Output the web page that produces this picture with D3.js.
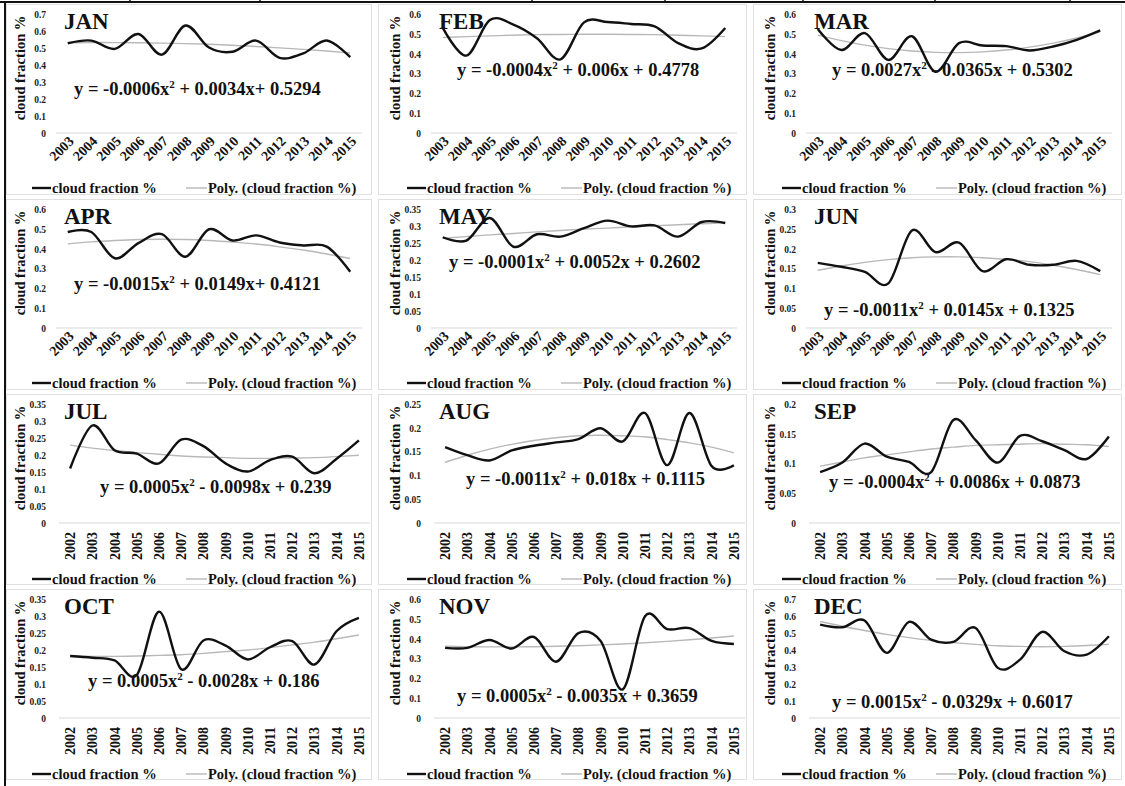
<!DOCTYPE html>
<html>
<head>
<meta charset="utf-8">
<script src="https://cdn.jsdelivr.net/npm/d3@7"></script>
<style>
  body { margin: 0; background: #fff; }
  svg { display: block; font-family: "Liberation Serif", "Times New Roman", serif; font-weight: bold; }
</style>
</head>
<body>
<svg id="chart" width="1125" height="786"></svg>
<script>
// Categories
const years0315 = ["2003","2004","2005","2006","2007","2008","2009","2010","2011","2012","2013","2014","2015"];
const years0215 = ["2002","2003","2004","2005","2006","2007","2008","2009","2010","2011","2012","2013","2014","2015"];
const months = ["JAN","FEB","MAR","APR","MAY","JUN","JUL","AUG","SEP","OCT","NOV","DEC"];

// Monthly cloud fraction and the polynomial trend
const janCloud = [0.530,0.546,0.497,0.585,0.463,0.635,0.505,0.480,0.546,0.444,0.470,0.546,0.448];
const janPoly  = [0.532,0.534,0.534,0.533,0.531,0.528,0.524,0.518,0.511,0.503,0.494,0.484,0.472];
const febCloud = [0.532,0.392,0.572,0.549,0.480,0.373,0.560,0.562,0.552,0.540,0.455,0.428,0.532];
const febPoly  = [0.483,0.488,0.492,0.495,0.498,0.499,0.500,0.500,0.499,0.498,0.495,0.492,0.488];
const marCloud = [0.527,0.420,0.506,0.370,0.490,0.310,0.455,0.443,0.440,0.418,0.438,0.472,0.520];
const marPoly  = [0.496,0.468,0.445,0.427,0.415,0.408,0.407,0.411,0.420,0.435,0.455,0.481,0.512];
const aprCloud = [0.486,0.486,0.353,0.430,0.475,0.361,0.500,0.443,0.469,0.433,0.418,0.412,0.285];
const aprPoly  = [0.426,0.436,0.443,0.448,0.449,0.448,0.443,0.435,0.425,0.411,0.395,0.375,0.352];
const mayCloud = [0.268,0.258,0.325,0.240,0.277,0.270,0.295,0.317,0.300,0.303,0.270,0.313,0.310];
const mayPoly  = [0.265,0.270,0.275,0.279,0.284,0.288,0.292,0.295,0.299,0.302,0.305,0.308,0.311];
const junCloud = [0.165,0.155,0.142,0.113,0.247,0.192,0.216,0.144,0.174,0.160,0.160,0.170,0.144];
const junPoly  = [0.146,0.157,0.166,0.173,0.178,0.180,0.180,0.178,0.174,0.168,0.159,0.148,0.135];
const julCloud = [0.161,0.288,0.215,0.205,0.176,0.246,0.227,0.176,0.152,0.186,0.196,0.147,0.190,0.244];
const julPoly  = [0.230,0.221,0.214,0.208,0.203,0.198,0.195,0.193,0.191,0.191,0.192,0.193,0.196,0.200];
const augCloud = [0.160,0.143,0.132,0.153,0.163,0.170,0.177,0.200,0.172,0.232,0.122,0.232,0.120,0.122];
const augPoly  = [0.128,0.143,0.156,0.166,0.174,0.180,0.184,0.185,0.184,0.182,0.176,0.169,0.160,0.148];
const sepCloud = [0.086,0.102,0.134,0.112,0.103,0.086,0.174,0.140,0.102,0.147,0.138,0.123,0.108,0.146];
const sepPoly  = [0.096,0.103,0.110,0.115,0.120,0.125,0.128,0.131,0.132,0.133,0.134,0.133,0.132,0.129];
const octCloud = [0.183,0.178,0.170,0.127,0.314,0.144,0.229,0.214,0.173,0.209,0.227,0.158,0.257,0.296];
const octPoly  = [0.184,0.182,0.182,0.183,0.185,0.187,0.191,0.196,0.201,0.208,0.216,0.224,0.234,0.245];
const novCloud = [0.355,0.355,0.395,0.352,0.410,0.285,0.430,0.390,0.145,0.515,0.450,0.455,0.390,0.375];
const novPoly  = [0.363,0.361,0.360,0.360,0.361,0.363,0.366,0.370,0.375,0.381,0.388,0.396,0.405,0.415];
const decCloud = [0.552,0.536,0.576,0.385,0.568,0.463,0.450,0.532,0.296,0.345,0.509,0.394,0.375,0.483];
const decPoly  = [0.570,0.542,0.517,0.494,0.475,0.458,0.445,0.435,0.427,0.423,0.421,0.423,0.428,0.435];

// Axis maxima, tick steps and trendline equations
const yMax  = [0.7,0.6,0.6,0.6,0.35,0.3,0.35,0.25,0.2,0.35,0.6,0.7];
const yStep = [0.1,0.1,0.1,0.1,0.05,0.05,0.05,0.05,0.05,0.05,0.1,0.1];
const eqTerms = [
  ["-0.0006", "0.0034x+ 0.5294"],
  ["-0.0004", "0.006x + 0.4778"],
  ["0.0027", "0.0365x + 0.5302"],
  ["-0.0015", "0.0149x+ 0.4121"],
  ["-0.0001", "0.0052x + 0.2602"],
  ["-0.0011", "0.0145x + 0.1325"],
  ["0.0005", "0.0098x + 0.239"],
  ["-0.0011", "0.018x + 0.1115"],
  ["-0.0004", "0.0086x + 0.0873"],
  ["0.0005", "0.0028x + 0.186"],
  ["0.0005", "0.0035x + 0.3659"],
  ["0.0015", "0.0329x + 0.6017"]
];
const eqSign = ["+","+","-","+","+","+","-","+","+","-","-","-"];

const cloudSeries = [janCloud,febCloud,marCloud,aprCloud,mayCloud,junCloud,julCloud,augCloud,sepCloud,octCloud,novCloud,decCloud];
const polySeries  = [janPoly,febPoly,marPoly,aprPoly,mayPoly,junPoly,julPoly,augPoly,sepPoly,octPoly,novPoly,decPoly];

// equation placement inside each panel (left x, baseline y)
const eqAt = [[74,95],[82,76],[82,76],[74,95],[74,73],[74,121],[100,103],[91,95],[79,98],[88,102],[82,117],[82,123]];

const svg = d3.select("#chart");

// table frame
svg.append("line").attr("x1", 0).attr("x2", 1125).attr("y1", 2).attr("y2", 2).attr("stroke", "#111").attr("stroke-width", 2);
svg.append("line").attr("x1", 5).attr("x2", 5).attr("y1", 1).attr("y2", 786).attr("stroke", "#111").attr("stroke-width", 2);
[130, 260, 532, 665, 803, 935, 1070].forEach(xx =>
  svg.append("line").attr("x1", xx).attr("x2", xx).attr("y1", 0).attr("y2", 3).attr("stroke", "#111").attr("stroke-width", 1.5));

months.forEach((m, i) => {
  const col = i % 3, row = Math.floor(i / 3);
  const years = row < 2 ? years0315 : years0215;
  const g = svg.append("g").attr("transform", `translate(${col * 375},${row * 195})`);
  const vertical = row >= 2;

  // chart area border
  g.append("rect")
    .attr("x", col === 0 ? 6.5 : 3.5).attr("y", 4.5)
    .attr("width", col === 0 ? 365 : 368).attr("height", 190)
    .attr("fill", "#fff").attr("stroke", "#e0e0e0");

  const x = d3.scaleBand().domain(years).range(vertical ? [59, 370] : [56, 362]);
  const y = d3.scaleLinear().domain([0, yMax[i]]).range([133, 14.5]);
  const cx = d => x(d) + x.bandwidth() / 2;

  // horizontal axis line
  g.append("line")
    .attr("x1", x.range()[0]).attr("x2", x.range()[1])
    .attr("y1", y(0)).attr("y2", y(0))
    .attr("stroke", "#d9d9d9").attr("stroke-width", 1);

  // y axis
  const ticks = d3.range(0, yMax[i] + yStep[i] / 2, yStep[i]);
  const ya = g.append("g").attr("transform", "translate(46,0)")
    .call(d3.axisLeft(y).tickValues(ticks).tickSize(0).tickPadding(0)
      .tickFormat(v => String(+v.toFixed(2))));
  ya.select(".domain").remove();
  ya.selectAll("text").attr("font-family", "Liberation Serif").attr("font-weight", "bold")
    .attr("font-size", "9.5px").attr("fill", "#222");

  // y axis title
  g.append("text")
    .attr("transform", "translate(25,68) rotate(-90)")
    .attr("text-anchor", "middle")
    .attr("font-size", "14.5px")
    .attr("fill", "#111")
    .text("cloud fraction %");

  // x axis labels
  const xa = g.append("g").attr("transform", `translate(0,${y(0)})`)
    .call(d3.axisBottom(x).tickSize(0));
  xa.select(".domain").remove();
  xa.selectAll("text")
    .attr("font-family", "Liberation Serif").attr("font-weight", "bold")
    .attr("font-size", "14px").attr("fill", "#111")
    .attr("text-anchor", "end")
    .attr("y", 0).attr("dy", 0)
    .attr("transform", vertical ? "translate(5,9) rotate(-90)" : "translate(7,9) rotate(-45)");

  // trend line
  const line = d3.line().x((d, k) => cx(years[k])).y(d => y(d));
  g.append("path")
    .datum(polySeries[i])
    .attr("fill", "none").attr("stroke", "#b8b8b8").attr("stroke-width", 1.4)
    .attr("d", line.curve(d3.curveNatural));

  // cloud fraction
  g.append("path")
    .datum(cloudSeries[i])
    .attr("fill", "none").attr("stroke", "#111").attr("stroke-width", 2.4)
    .attr("stroke-linejoin", "round")
    .attr("d", line.curve(d3.curveCardinal.tension(0)));

  // month title
  g.append("text").attr("x", 64).attr("y", 29)
    .attr("font-size", "23px").attr("fill", "#111").text(m);

  // equation
  const eq = g.append("text").attr("x", eqAt[i][0]).attr("y", eqAt[i][1])
    .attr("font-size", "18.5px").attr("fill", "#111");
  eq.append("tspan").text(`y = ${eqTerms[i][0]}x`);
  eq.append("tspan").attr("font-size", "11px").attr("dy", -7).text("2");
  eq.append("tspan").attr("dy", 7).text(` ${eqSign[i]} ${eqTerms[i][1]}`);

  // legend
  const ly = vertical ? 189 : 188;
  g.append("line").attr("x1", 32).attr("x2", 51).attr("y1", ly).attr("y2", ly)
    .attr("stroke", "#111").attr("stroke-width", 2.4);
  g.append("text").attr("x", 52).attr("y", ly + 5).attr("font-size", "14.5px").attr("fill", "#111")
    .text("cloud fraction %");
  g.append("line").attr("x1", 186).attr("x2", 207).attr("y1", ly).attr("y2", ly)
    .attr("stroke", "#b8b8b8").attr("stroke-width", 1.4);
  g.append("text").attr("x", 208).attr("y", ly + 5).attr("font-size", "14.5px").attr("fill", "#111")
    .text("Poly. (cloud fraction %)");
});
</script>
</body>
</html>
